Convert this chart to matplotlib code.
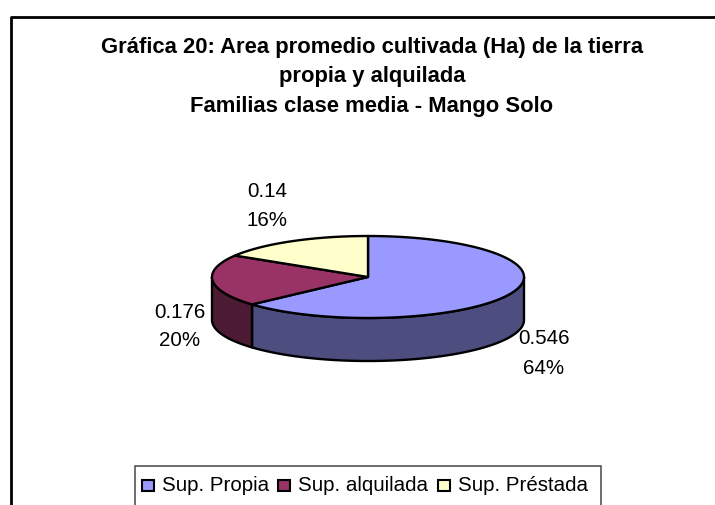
import numpy as np
import matplotlib
matplotlib.use("Agg")
import matplotlib.pyplot as plt
from matplotlib.patches import Polygon, Rectangle

# Data
categories = ["Sup. Propia", "Sup. alquilada", "Sup. Préstada"]
values = [0.546, 0.176, 0.14]
value_labels = ["0.546", "0.176", "0.14"]
pct_labels = ["64%", "20%", "16%"]
title_lines = ["Gráfica 20: Area promedio cultivada (Ha) de la tierra",
               "propia y alquilada",
               "Familias clase media - Mango Solo"]

# Style / layout
W, H = 715, 506
top_colors = ["#9999FF", "#993366", "#FFFFCC"]
side_colors = ["#4D4D80", "#4D1A33", "#808066"]
cx, cy, rx, ry, depth = 368, 278, 156, 41, 43
font = "Liberation Sans"

fig = plt.figure(figsize=(W / 100, H / 100), dpi=100)
ax = fig.add_axes([0, 0, 1, 1])
ax.set_xlim(0, W)
ax.set_ylim(H, 0)
ax.axis("off")


def pt(theta):
    return cx + rx * np.sin(theta), cy - ry * np.cos(theta)


total = sum(values)
edges = np.concatenate([[0], np.cumsum(values) / total]) * 2 * np.pi

# Outer border of the chart area (runs off the right and bottom of the image)
ax.plot([10.5, 10.5, W + 5], [H + 5, 17.5, 17.5], color="black", lw=2.0, clip_on=True)

# Side walls: only the front half of the ellipse (pi/2..3pi/2) is visible
for a, b, col in zip(edges[:-1], edges[1:], side_colors):
    lo, hi = max(a, np.pi / 2), min(b, 3 * np.pi / 2)
    if lo >= hi:
        continue
    t = np.linspace(lo, hi, 120)
    x, y = pt(t)
    verts = np.r_[np.c_[x, y], np.c_[x[::-1], y[::-1] + depth]]
    ax.add_patch(Polygon(verts, closed=True, fc=col, ec="black", lw=1.7, joinstyle="round", zorder=2))

# Top faces
for a, b, col in zip(edges[:-1], edges[1:], top_colors):
    t = np.linspace(a, b, 200)
    x, y = pt(t)
    verts = np.r_[[[cx, cy]], np.c_[x, y]]
    ax.add_patch(Polygon(verts, closed=True, fc=col, ec="black", lw=1.7, joinstyle="round", zorder=3))

# Data labels
label_pos = [(544, 339, 368), (180, 312, 341), (267, 191, 221)]
for (lx, y1, y2), v, p in zip(label_pos, value_labels, pct_labels):
    ax.text(lx, y1, v, ha="center", va="center", fontsize=14.8, family=font, color="black")
    ax.text(lx, y2, p, ha="center", va="center", fontsize=14.8, family=font, color="black")

# Title
for y, line in zip([47, 76, 106], title_lines):
    ax.text(372, y, line, ha="center", va="center", fontsize=15.8, fontweight="bold", family=font, color="black")

# Legend
ax.add_patch(Rectangle((134.5, 467), 466, 60, fc="white", ec="#555555", lw=1.2, zorder=4))
swatches = [142, 278, 438]
texts = [162, 298, 458]
for sx, tx, col, name in zip(swatches, texts, top_colors, categories):
    ax.add_patch(Rectangle((sx, 481), 12, 11, fc=col, ec="black", lw=1.5, zorder=5))
    ax.text(tx, 485.5, name, ha="left", va="center", fontsize=14.8, family=font, color="black", zorder=5)

fig.savefig("out.png", dpi=100)
